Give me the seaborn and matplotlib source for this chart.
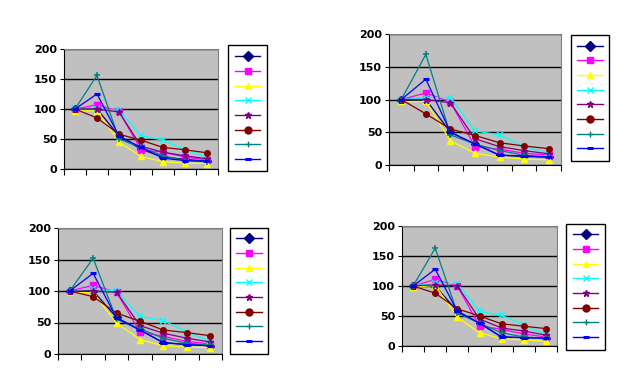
import matplotlib
matplotlib.use("Agg")
import matplotlib.pyplot as plt
import seaborn as sns
from matplotlib.lines import Line2D

categories = [1, 2, 3, 4, 5, 6, 7]

# Excel-like series styles: navy, magenta, yellow, cyan, purple, dark red, teal, blue
series_colors = ["#000080", "#FF00FF", "#FFFF00", "#00FFFF", "#800080", "#800000", "#008080", "#0000FF"]
series_markers = ["D", "s", "^", "x", "*", "o", "+", "_"]

panel_a = [
    [100, 100, 55, 33, 20, 16, 13],
    [100, 107, 96, 32, 28, 20, 15],
    [97, 97, 45, 21, 12, 10, 9],
    [100, 100, 98, 56, 48, 32, 20],
    [100, 100, 95, 38, 28, 22, 17],
    [100, 85, 58, 48, 36, 32, 27],
    [100, 156, 50, 36, 22, 14, 12],
    [100, 125, 55, 36, 18, 14, 13],
]
panel_b = [
    [100, 100, 50, 32, 15, 13, 12],
    [100, 110, 96, 28, 24, 18, 15],
    [97, 97, 37, 18, 12, 9, 8],
    [100, 103, 103, 52, 46, 28, 18],
    [100, 100, 95, 40, 28, 22, 17],
    [100, 78, 55, 45, 34, 29, 25],
    [100, 169, 46, 32, 22, 15, 12],
    [100, 131, 50, 32, 15, 14, 12],
]
panel_c = [
    [100, 100, 58, 38, 18, 15, 13],
    [100, 109, 98, 35, 28, 20, 16],
    [98, 97, 49, 23, 13, 11, 10],
    [100, 103, 100, 60, 53, 35, 20],
    [100, 100, 98, 45, 33, 25, 19],
    [100, 91, 65, 52, 38, 34, 29],
    [100, 152, 55, 40, 25, 17, 14],
    [100, 128, 57, 38, 18, 15, 13],
]
panel_d = [
    [100, 100, 58, 38, 15, 14, 13],
    [100, 111, 100, 33, 28, 20, 15],
    [98, 101, 48, 22, 12, 10, 8],
    [100, 105, 104, 58, 51, 35, 19],
    [100, 102, 100, 45, 30, 25, 18],
    [100, 88, 62, 50, 37, 33, 29],
    [100, 163, 55, 38, 22, 15, 13],
    [100, 128, 58, 38, 15, 14, 13],
]
y_ticks = [0, 50, 100, 150, 200]

fig = plt.figure(figsize=(6.4, 3.85), dpi=100)
fig.patch.set_facecolor("white")

W, H = 640.0, 385.0
# (plot area left, right, top, bottom) and (legend left, right, top, bottom) in pixels
layouts = [
    (panel_a, (64, 218, 49, 169), (229, 266, 45, 172)),
    (panel_b, (389, 561, 34, 165), (571, 609, 34, 162)),
    (panel_c, (58, 222, 228, 354), (232, 266, 226, 355)),
    (panel_d, (402, 557, 226, 346), (567, 604, 222, 351)),
]


def plot_panel(data, box, legbox):
    l, r, t, b = box
    ax = fig.add_axes([l / W, 1 - b / H, (r - l) / W, (b - t) / H])
    ax.set_facecolor("#C0C0C0")
    ax.set_axisbelow(True)
    for vals, c, m in zip(data, series_colors, series_markers):
        ms = 4
        mew = 1.0
        if m in ("x", "+"):
            mew = 1.1
        if m == "_":
            ms, mew = 4, 2.2
        if m == "*":
            ms = 5
        sns.lineplot(x=categories, y=vals, ax=ax, color=c, marker=m, markersize=ms,
                     markeredgecolor=c, markeredgewidth=mew, linewidth=0.9)
    ax.set_xlim(0.5, 7.5)
    ax.set_ylim(0, 200)
    ax.set_yticks(y_ticks)
    ax.set_yticklabels([str(v) for v in y_ticks], fontsize=8, fontweight="bold")
    ax.set_xticks([i + 0.5 for i in range(0, 8)])
    ax.set_xticklabels([])
    ax.tick_params(axis="x", direction="out", length=4, width=0.8, color="black")
    ax.tick_params(axis="y", direction="out", length=3, width=0.8, color="black", pad=2)
    ax.yaxis.grid(True, color="black", linewidth=1.0)
    ax.xaxis.grid(False)
    ax.set_xlabel("")
    ax.set_ylabel("")
    ax.spines["left"].set_color("black")
    ax.spines["bottom"].set_color("black")
    ax.spines["top"].set_color("#808080")
    ax.spines["right"].set_color("#808080")
    for s in ax.spines.values():
        s.set_linewidth(0.8)

    handles = []
    for c, m in zip(series_colors, series_markers):
        ms, mew = 5, 1.0
        if m == "_":
            ms, mew = 5, 2.2
        handles.append(Line2D([], [], color=c, marker=m, markersize=ms, markeredgecolor=c,
                              markeredgewidth=mew, linewidth=1.0))
    ll, lr, lt, lb = legbox
    leg = fig.legend(handles, [""] * len(handles), loc="center",
                     bbox_to_anchor=(ll / W, 1 - lb / H, (lr - ll) / W, (lb - lt) / H),
                     frameon=True, fancybox=False, edgecolor="black", framealpha=1,
                     handlelength=2.3, handletextpad=0.0, fontsize=8,
                     labelspacing=0.42, borderpad=0.6, borderaxespad=0)
    leg.get_frame().set_linewidth(1.0)


for data, box, legbox in layouts:
    plot_panel(data, box, legbox)

fig.savefig("out.png", dpi=100)
